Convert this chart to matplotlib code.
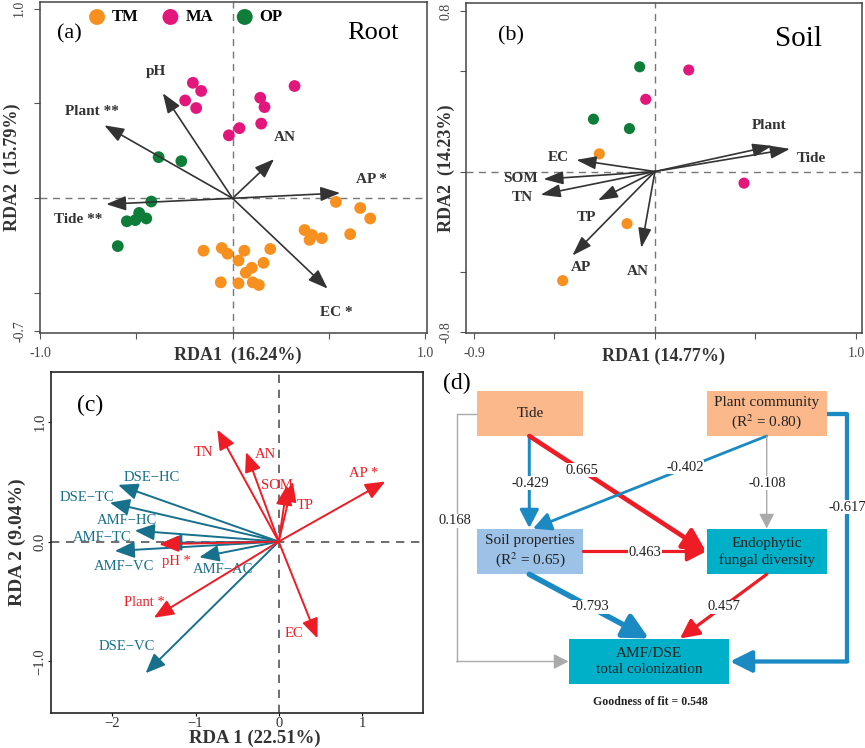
import numpy as np
import matplotlib
matplotlib.use('Agg')
import matplotlib.pyplot as plt
from matplotlib.patches import Rectangle

plt.rcParams['font.family'] = ['Liberation Serif', 'DejaVu Serif']
plt.rcParams['mathtext.fontset'] = 'stix'

# ---------------- data ----------------
# (a) root RDA, site scores
a_tm_x = [0.537, 0.663, 0.715, 0.611, 0.374, 0.412, 0.400, 0.464, -0.151, -0.056, -0.026,
          0.061, 0.196, 0.031, 0.100, 0.069, 0.161, -0.061, 0.031, 0.105, 0.137]
a_tm_y = [-0.019, -0.051, -0.106, -0.189, -0.167, -0.193, -0.219, -0.210, -0.276, -0.262, -0.292,
          -0.276, -0.267, -0.328, -0.366, -0.392, -0.340, -0.443, -0.448, -0.443, -0.457]
a_ma_x = [-0.206, -0.163, -0.246, -0.189, 0.322, 0.144, 0.166, 0.149, 0.036, -0.019]
a_ma_y = [0.609, 0.566, 0.516, 0.476, 0.592, 0.530, 0.481, 0.394, 0.370, 0.332]
a_op_x = [-0.384, -0.266, -0.422, -0.485, -0.448, -0.505, -0.549, -0.596]
a_op_y = [0.217, 0.196, -0.017, -0.077, -0.106, -0.115, -0.121, -0.252]
# (a) environmental vectors
a_vec_names = ['pH', 'Plant **', 'Tide **', 'AP *', 'AN', 'EC *']
a_vec_x = [-0.362, -0.666, -0.656, 0.559, 0.216, 0.494]
a_vec_y = [0.554, 0.385, -0.031, 0.028, 0.207, -0.476]
a_lab_x = [-0.40, -0.73, -0.80, 0.72, 0.27, 0.54]
a_lab_y = [0.67, 0.46, -0.11, 0.10, 0.32, -0.60]

# (b) soil RDA
b_tm_x = [-0.277, -0.139, -0.459]
b_tm_y = [0.088, -0.260, -0.544]
b_ma_x = [0.168, -0.046, 0.443]
b_ma_y = [0.506, 0.360, -0.058]
b_op_x = [-0.076, -0.306, -0.127]
b_op_y = [0.522, 0.261, 0.214]
b_vec_names = ['Plant', 'Tide', 'EC', 'SOM', 'TN', 'TP', 'AP', 'AN']
b_vec_x = [0.584, 0.672, -0.391, -0.555, -0.569, -0.284, -0.411, -0.068]
b_vec_y = [0.128, 0.113, 0.058, -0.038, -0.116, -0.144, -0.419, -0.381]
b_lab_x = [0.57, 0.78, -0.48, -0.67, -0.66, -0.34, -0.37, -0.085]
b_lab_y = [0.23, 0.067, 0.07, -0.036, -0.13, -0.227, -0.478, -0.498]

# (c) fungal colonization RDA
c_env_names = ['TN', 'AN', 'SOM', 'TP', 'AP *', 'EC', 'Plant *', 'pH *']
c_env_x = [-0.738, -0.393, 0.10, 0.17, 1.279, 0.465, -1.50, -1.437]
c_env_y = [0.935, 0.748, 0.47, 0.50, 0.502, -0.809, -0.636, -0.022]
c_env_lx = [-0.90, -0.16, -0.02, 0.32, 1.02, 0.18, -1.61, -1.23]
c_env_ly = [0.745, 0.725, 0.469, 0.301, 0.572, -0.767, -0.51, -0.167]
c_fun_names = ['DSE\u2212HC', 'DSE\u2212TC', 'AMF\u2212HC', 'AMF\u2212TC', 'AMF\u2212VC', 'AMF\u2212AC', 'DSE\u2212VC']
c_fun_x = [-1.93, -2.03, -1.73, -1.40, -1.97, -0.955, -1.60]
c_fun_y = [0.474, 0.326, 0.092, -0.01, -0.078, -0.131, -1.10]
c_fun_lx = [-1.53, -2.30, -1.82, -2.12, -1.86, -0.67, -1.82]
c_fun_ly = [0.536, 0.371, 0.173, 0.036, -0.209, -0.232, -0.873]

# (d) structural equation model
sem_from = ['Tide', 'Tide', 'Tide', 'Plant', 'Plant', 'Plant', 'Soil', 'Soil', 'Endo']
sem_to = ['Soil', 'Endo', 'AMF', 'Soil', 'Endo', 'AMF', 'Endo', 'AMF', 'AMF']
sem_coef = [-0.429, 0.665, 0.168, -0.402, -0.108, -0.617, 0.463, -0.793, 0.457]
sem_sig = [True, True, False, True, False, True, True, True, True]

c_tm, c_ma, c_op = '#F7901E', '#E3167C', '#0F7D3A'
dark = '#333333'

fig = plt.figure(figsize=(8.65, 7.48), dpi=100)
W, H = 865.0, 748.0


def px_axes(l, t, r, b):
    return fig.add_axes([l / W, 1 - b / H, (r - l) / W, (b - t) / H])


def arrow(ax, x, y, color, lw, hl, hw, z=3):
    ax.annotate('', xy=(x, y), xytext=(0, 0),
                arrowprops=dict(arrowstyle='-|>,head_length=%s,head_width=%s' % (hl, hw),
                                color=color, lw=lw, shrinkA=0, shrinkB=0, mutation_scale=20),
                zorder=z)


def style_rda(ax, xt, xtl, yt, ytl):
    for s in ax.spines.values():
        s.set_color('#444444')
        s.set_linewidth(1.1)
    ax.set_xticks(xt)
    ax.set_xticklabels(xtl, fontsize=10, color='#444444')
    ax.set_yticks(yt)
    ax.set_yticklabels(ytl, fontsize=10, color='#444444', rotation=90, va='center')
    ax.tick_params(direction='out', length=4, color='#555555', pad=6)
    ax.axhline(0, color='#777777', lw=1, ls=(0, (5, 4)), zorder=1)
    ax.axvline(0, color='#777777', lw=1, ls=(0, (5, 4)), zorder=1)


# ---------------- (a) ----------------
ax = px_axes(40, 2, 427, 333)
ax.set_xlim(-1.0, 1.01)
ax.set_ylim(-0.71, 1.035)
style_rda(ax, [-1.0, -0.5, 0, 0.5, 1.0], ['-1.0', '', '', '', '1.0'],
          [-0.7, -0.5, 0, 0.5, 1.0], ['-0.7', '', '', '', '1.0'])
ax.scatter(a_tm_x, a_tm_y, s=72, color=c_tm, label='TM', zorder=2, edgecolors='none')
ax.scatter(a_ma_x, a_ma_y, s=72, color=c_ma, label='MA', zorder=2, edgecolors='none')
ax.scatter(a_op_x, a_op_y, s=72, color=c_op, label='OP', zorder=2, edgecolors='none')
for n, x, y, lx, ly in zip(a_vec_names, a_vec_x, a_vec_y, a_lab_x, a_lab_y):
    arrow(ax, x, y, dark, 1.2, 0.6, 0.22)
    ax.text(lx, ly, n, fontsize=11, fontweight='bold', color=dark, ha='center', va='center')
ax.legend(loc='upper left', bbox_to_anchor=(0.1, 1.008), ncol=3, frameon=False,
          prop={'weight': 'bold', 'size': 12}, handletextpad=0.4, columnspacing=1.4,
          markerscale=1.35, handlelength=1.0, borderaxespad=0.2)
ax.text(0.045, 0.905, '(a)', transform=ax.transAxes, fontsize=16, va='center')
ax.text(0.86, 0.905, 'Root', transform=ax.transAxes, fontsize=19, va='center', ha='center')
ax.set_xlabel('RDA1  (16.24%)', fontsize=13, fontweight='bold', color=dark)
ax.xaxis.set_label_coords(0.51, -0.066)
ax.xaxis.label.set_va('center')
ax.set_ylabel('RDA2  (15.79%)', fontsize=13, fontweight='bold', color=dark)
ax.yaxis.set_label_coords(-0.072, 0.5)
ax.yaxis.label.set_va('center')

# ---------------- (b) ----------------
ax = px_axes(466, 3, 862, 333)
ax.set_xlim(-0.94, 1.03)
ax.set_ylim(-0.805, 0.84)
style_rda(ax, [-0.9, -0.5, 0, 0.5, 1.0], ['-0.9', '', '', '', '1.0'],
          [-0.8, -0.5, 0, 0.5, 0.8], ['-0.8', '', '', '', '0.8'])
ax.scatter(b_tm_x, b_tm_y, s=64, color=c_tm, zorder=2, edgecolors='none')
ax.scatter(b_ma_x, b_ma_y, s=64, color=c_ma, zorder=2, edgecolors='none')
ax.scatter(b_op_x, b_op_y, s=64, color=c_op, zorder=2, edgecolors='none')
for n, x, y, lx, ly in zip(b_vec_names, b_vec_x, b_vec_y, b_lab_x, b_lab_y):
    arrow(ax, x, y, dark, 1.2, 0.6, 0.2)
    ax.text(lx, ly, n, fontsize=11, fontweight='bold', color=dark, ha='center', va='center')
ax.text(0.08, 0.9, '(b)', transform=ax.transAxes, fontsize=16, va='center')
ax.text(0.84, 0.89, 'Soil', transform=ax.transAxes, fontsize=21, va='center', ha='center')
ax.set_xlabel('RDA1 (14.77%)', fontsize=13, fontweight='bold', color=dark)
ax.xaxis.set_label_coords(0.5, -0.072)
ax.xaxis.label.set_va('center')
ax.set_ylabel('RDA2  (14.23%)', fontsize=13, fontweight='bold', color=dark)
ax.yaxis.set_label_coords(-0.05, 0.5)
ax.yaxis.label.set_va('center')

# ---------------- (c) ----------------
red, teal = '#EE1C25', '#17708C'
ax = px_axes(50.7, 371.7, 422.7, 712.7)
ax.set_xlim(-2.74, 1.73)
ax.set_ylim(-1.43, 1.42)
for s in ax.spines.values():
    s.set_color('#222222')
    s.set_linewidth(1.2)
ax.set_xticks([-2, -1, 0, 1])
ax.set_yticks([-1.0, 0.0, 1.0])
ax.set_yticklabels(['\u22121.0', '0.0', '1.0'], rotation=90, va='center')
ax.tick_params(direction='out', length=2, labelsize=10.5, labelcolor='#333333', pad=1)
ax.axhline(0, color='#555555', lw=1.2, ls=(0, (5, 4)), zorder=1)
ax.axvline(0, color='#555555', lw=1.2, ls=(0, (5, 4)), zorder=1)
for n, x, y, lx, ly in zip(c_fun_names, c_fun_x, c_fun_y, c_fun_lx, c_fun_ly):
    arrow(ax, x, y, teal, 1.4, 0.6, 0.25, z=2)
    ax.text(lx, ly, n, fontsize=10.5, color=teal, ha='center', va='center')
for n, x, y, lx, ly in zip(c_env_names, c_env_x, c_env_y, c_env_lx, c_env_ly):
    arrow(ax, x, y, red, 1.4, 0.6, 0.25, z=3)
    ax.text(lx, ly, n, fontsize=10.5, color=red, ha='center', va='center')
ax.text(0.07, 0.9, '(c)', transform=ax.transAxes, fontsize=17, va='center')
ax.set_xlabel('RDA 1 (22.51%)', fontsize=13.5, fontweight='bold', color=dark)
ax.xaxis.set_label_coords(0.55, -0.076)
ax.xaxis.label.set_va('center')
ax.set_ylabel('RDA 2 (9.04%)', fontsize=14, fontweight='bold', color=dark)
ax.yaxis.set_label_coords(-0.09, 0.5)
ax.yaxis.label.set_va('center')

# ---------------- (d) ----------------
ax = px_axes(440, 340, 865, 748)
ax.set_xlim(440, 865)
ax.set_ylim(748, 340)
ax.axis('off')

boxes = {
    'Tide': (476.7, 390.7, 583.3, 436.0, '#FBB98B', 'Tide'),
    'Plant': (706.7, 390.7, 826.7, 436.0, '#FBB98B', 'Plant community\n(R$^2$ = 0.80)'),
    'Soil': (476.7, 529.3, 583.3, 574.3, '#9DC2E8', 'Soil properties\n(R$^2$ = 0.65)'),
    'Endo': (706.7, 529.3, 826.7, 574.3, '#00AFC8', 'Endophytic\nfungal diversity'),
    'AMF': (569.3, 639.0, 729.0, 684.0, '#00AFC8', 'AMF/DSE\ntotal colonization'),
}
for k, (l, t, r, b, fc, txt) in boxes.items():
    ax.add_patch(Rectangle((l, t), r - l, b - t, facecolor=fc, edgecolor='none', zorder=1))
    ax.text((l + r) / 2, (t + b) / 2, txt, ha='center', va='center', fontsize=11,
            linespacing=1.25, color='#222222', zorder=5)

# route waypoints (pixels) and label positions for each path
routes = {
    ('Tide', 'Soil'): ([(529.3, 436.0), (529.3, 528.0)], (530, 483)),
    ('Tide', 'Endo'): ([(529.3, 436.0), (706.0, 551.5)], (582, 470)),
    ('Tide', 'AMF'): ([(476.7, 413.5), (456.7, 413.5), (456.7, 661.5), (568.5, 661.5)], (455, 521)),
    ('Plant', 'Soil'): ([(766.7, 436.0), (533.0, 528.5)], (685, 467)),
    ('Plant', 'Endo'): ([(766.7, 436.0), (766.7, 528.5)], (767, 483)),
    ('Plant', 'AMF'): ([(826.7, 413.5), (847.3, 413.5), (847.3, 661.5), (730.0, 661.5)], (847, 507)),
    ('Soil', 'Endo'): ([(583.3, 551.5), (706.0, 551.5)], (645, 552)),
    ('Soil', 'AMF'): ([(529.3, 574.3), (649.0, 638.5)], (590, 607)),
    ('Endo', 'AMF'): ([(766.7, 574.3), (680.0, 638.5)], (724, 607)),
}
blue_d, red_d, gray_d = '#1B8AC2', '#EE1C25', '#AAAAAA'
for f, t, c, sig in zip(sem_from, sem_to, sem_coef, sem_sig):
    pts, lab = routes[(f, t)]
    if not sig:
        col, lw = gray_d, 1.0
    else:
        col = red_d if c > 0 else blue_d
        lw = abs(c) * 5.0
    xs = [p[0] for p in pts]
    ys = [p[1] for p in pts]
    if len(pts) > 2:
        ax.plot(xs[:-1], ys[:-1], color=col, lw=lw, solid_capstyle='butt', zorder=2)
    hl = 0.35 + 0.1 * lw
    hw = 0.18 + 0.05 * lw
    ax.annotate('', xy=pts[-1], xytext=pts[-2],
                arrowprops=dict(arrowstyle='-|>,head_length=%.2f,head_width=%.2f' % (hl, hw),
                                color=col, lw=lw, shrinkA=0, shrinkB=0, mutation_scale=20),
                zorder=2)
    ax.text(lab[0], lab[1], '%.3f' % c, ha='center', va='center', fontsize=10.5,
            color='#222222', zorder=4,
            bbox=dict(facecolor='white', edgecolor='none', pad=0.5))

ax.text(456.7, 383.3, '(d)', ha='center', va='center', fontsize=17)
ax.text(650, 701.7, 'Goodness of fit = 0.548', ha='center', va='center', fontsize=8.5,
        fontweight='bold', color='#222222')

fig.savefig('out.png', dpi=100)
